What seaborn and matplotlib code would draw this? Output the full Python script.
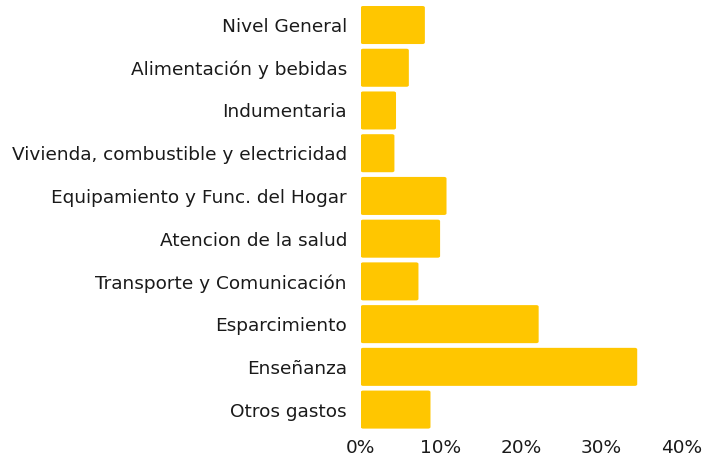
import numpy as np
import matplotlib
matplotlib.use("Agg")
import matplotlib.pyplot as plt
import pandas as pd
import seaborn as sns
from matplotlib.patches import FancyBboxPatch

# categories and values (% variation)
categorias = ['Nivel General', 'Alimentación y bebidas', 'Indumentaria',
              'Vivienda, combustible y electricidad', 'Equipamiento y Func. del Hogar',
              'Atencion de la salud', 'Transporte y Comunicación', 'Esparcimiento',
              'Enseñanza', 'Otros gastos']
valores = [8.0, 6.0, 4.4, 4.2, 10.7, 9.9, 7.2, 22.2, 34.5, 8.7]
ticks = [0, 10, 20, 30, 40]
tick_labels = ['0%', '10%', '20%', '30%', '40%']

df = pd.DataFrame({'categoria': categorias, 'valor': valores})

sns.set_style('white')
plt.rcParams['font.family'] = ['DejaVu Sans']

fig = plt.figure(figsize=(7.06, 4.57), dpi=100)
ax = fig.add_axes([0.511, 0.057, 0.454, 0.935])

sns.barplot(data=df, x='valor', y='categoria', orient='h', color='#FFC600',
            saturation=1, width=0.89, ax=ax)

# swap the plain rectangles for slightly rounded ones
for p in list(ax.patches):
    x, y = p.get_xy()
    w, h = p.get_width(), p.get_height()
    rb = FancyBboxPatch((x, y), w, h, boxstyle='round,pad=0,rounding_size=0.3',
                        mutation_aspect=0.12, facecolor=p.get_facecolor(),
                        edgecolor='none')
    p.remove()
    ax.add_patch(rb)

ax.set_xlim(0, 40)
ax.set_ylim(9.5, -0.5)
ax.set_xticks(ticks)
ax.set_xticklabels(tick_labels)
ax.set_xlabel('')
ax.set_ylabel('')
ax.tick_params(axis='both', length=0, labelsize=13.3, colors='#1a1a1a')
ax.tick_params(axis='y', pad=10)
ax.tick_params(axis='x', pad=6)
sns.despine(ax=ax, left=True, bottom=True)

fig.savefig('out.png', dpi=100)
